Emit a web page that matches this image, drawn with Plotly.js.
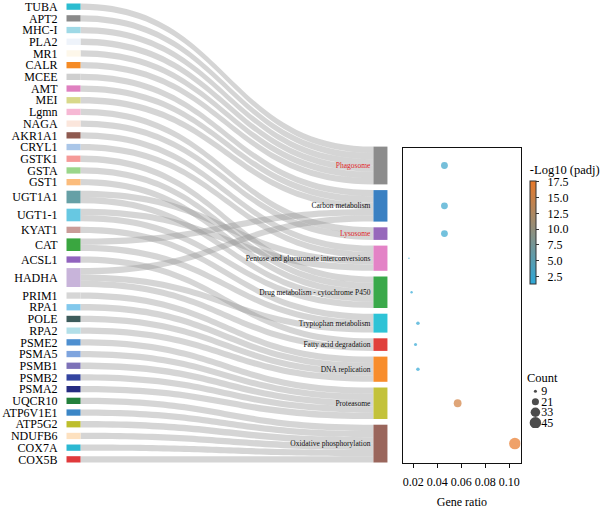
<!DOCTYPE html>
<html><head><meta charset="utf-8">
<script src="https://cdn.plot.ly/plotly-3.0.1.min.js"></script>
<style>html,body{margin:0;padding:0;background:#fff}#chart{width:600px;height:509px}</style>
</head><body><div id="chart"></div>
<script>
// ---------------- data ----------------
const genes = ['TUBA','APT2','MHC-I','PLA2','MR1','CALR','MCEE','AMT','MEI','Lgmn','NAGA','AKR1A1','CRYL1','GSTK1','GSTA','GST1','UGT1A1','UGT1-1','KYAT1','CAT','ACSL1','HADHA','PRIM1','RPA1','POLE','RPA2','PSME2','PSMA5','PSMB1','PSMB2','PSMA2','UQCR10','ATP6V1E1','ATP5G2','NDUFB6','COX7A','COX5B'];
const geneColors = ['#2bbcd0','#8a8a8a','#9fd9e6','#eef3fa','#fdf7ea','#f58b25','#cfcfcf','#df80c0','#d8d88a','#f6b8d4','#fbe6dc','#8f5a50','#aac6e8','#f59a98','#9ad68a','#fbbc7c','#66a0a6','#67c8e2','#c99c98','#3aa640','#9163be','#c8b4da','#d6d6d6','#82c8ec','#3d5c5c','#b2dfe8','#4e8fd0','#7ea4de','#7d72b8','#3344a0','#262c82','#23803c','#3b86c6','#bdbe2c','#fde1c0','#2cb8d2','#e03a3c'];
const pathways = ['Phagosome','Carbon metabolism','Lysosome','Pentose and glucuronate interconversions','Drug metabolism - cytochrome P450','Tryptophan metabolism','Fatty acid degradation','DNA replication','Proteasome','Oxidative phosphorylation'];
const pathwayColors = ['#8c8c8c','#3a80c2','#9768bb','#e383c6','#3aa94a','#2ec3d6','#e0403c','#f88d2c','#c3c23a','#9a665c'];
const highlighted = ['Phagosome','Lysosome'];
const pathwayGenes = [
  ['TUBA','APT2','MHC-I','PLA2','MR1','CALR'],
  ['MCEE','AMT','MEI','CAT','HADHA'],
  ['Lgmn','NAGA'],
  ['AKR1A1','CRYL1','UGT1A1','UGT1-1'],
  ['GSTK1','GSTA','GST1','UGT1A1','UGT1-1'],
  ['KYAT1','CAT','HADHA'],
  ['ACSL1','HADHA'],
  ['PRIM1','RPA1','POLE','RPA2'],
  ['PSME2','PSMA5','PSMB1','PSMB2','PSMA2'],
  ['UQCR10','ATP6V1E1','ATP5G2','NDUFB6','COX7A','COX5B']
];
const geneRatio = [0.046,0.046,0.046,0.0164,0.0186,0.0239,0.0219,0.0239,0.057,0.1047];
const counts = [20,20,20,7,8,10,9,10,24,45];
const negLog10Padj = [2.6,2.4,2.2,1.5,1.4,1.8,1.7,1.6,15.6,17.6];
const countLegend = [9,21,33,45];
const xTicks = [0.02,0.04,0.06,0.08,0.10];
const cbTicks = [2.5,5,7.5,10,12.5,15,17.5];

// ---------------- layout constants (pixels) ----------------
const PW = 600, PH = 509;
const SK = {left: 67, right: 390, top: 3.5, bottom: 462.5, thick: 14, padL: 5.4, padR: 5.7};
const BOX = {left: 406, right: 524, top: 148, bottom: 463};
const FONT = 'Liberation Serif, Times New Roman, serif';
const INK = '#000';
const skW = SK.right - SK.left, skH = SK.bottom - SK.top;
const px2py = v => 1 - v / PH;

// ---------------- sankey structure ----------------
const src = [], tgt = [], val = [];
pathwayGenes.forEach((gs, p) => gs.forEach(g => { src.push(genes.indexOf(g)); tgt.push(genes.length + p); val.push(1); }));
const geneUnits = genes.map((g, i) => src.filter(s => s === i).length);
const pathUnits = pathwayGenes.map(gs => gs.length);
const totalUnits = geneUnits.reduce((a, b) => a + b, 0);
const ky = (skH - (genes.length - 1) * SK.padL) / totalUnits;

const leftCenters = [];
let yy = 0;
geneUnits.forEach(u => { const h = u * ky; leftCenters.push(yy + h / 2); yy += h + SK.padL; });
const rightTotal = pathUnits.reduce((a, b) => a + b, 0) * ky + (pathways.length - 1) * SK.padR;
const rightCenters = [];
yy = skH - rightTotal;
pathUnits.forEach(u => { const h = u * ky; rightCenters.push(yy + h / 2); yy += h + SK.padR; });

const nodeX = genes.map(() => (SK.thick / 2) / skW).concat(pathways.map(() => (skW - SK.thick / 2) / skW));
const nodeY = leftCenters.map(c => c / skH).concat(rightCenters.map(c => c / skH));
const nodeLabels = genes.map(() => '').concat(pathways.map(p => highlighted.includes(p) ? '<span style="fill:#e0262a;color:#e0262a">' + p + '</span>' : p));

const sankey = {
  type: 'sankey', arrangement: 'fixed', orientation: 'h', hoverinfo: 'none',
  domain: {x: [SK.left / PW, SK.right / PW], y: [px2py(SK.bottom), px2py(SK.top)]},
  node: {label: nodeLabels, color: geneColors.concat(pathwayColors), x: nodeX, y: nodeY,
         pad: SK.padL, thickness: SK.thick, line: {width: 0}, hoverinfo: 'none'},
  link: {source: src, target: tgt, value: val, color: 'rgba(150,150,150,0.4)', hoverinfo: 'none'},
  textfont: {family: FONT, size: 7.5, color: '#111', shadow: 'none'}
};

// ---------------- dot plot ----------------
const cMin = Math.min(...counts), cMax = Math.max(...counts), dMin = 1.5, dMax = 11.5;
const sz = c => Math.sqrt(dMin * dMin + (dMax * dMax - dMin * dMin) * Math.max(0, c - cMin) / (cMax - cMin));

const dots = {
  type: 'scatter', mode: 'markers', x: geneRatio, y: rightCenters, xaxis: 'x', yaxis: 'y',
  hoverinfo: 'skip', showlegend: false,
  marker: {size: counts.map(sz), color: negLog10Padj, cmin: 1.34, cmax: 17.6,
    colorscale: [[0, '#2ea8d8'], [1, '#e8792a']], line: {width: 0},
    colorbar: {x: 533 / PW, xanchor: 'left', xpad: 0, y: px2py(223), yanchor: 'middle',
      len: 122, lenmode: 'pixels', ypad: 0, thickness: 5.5, outlinewidth: 1, outlinecolor: '#333',
      tickvals: cbTicks, ticktext: cbTicks.map(v => '\u2002' + v.toFixed(1)), ticks: 'outside', ticklen: 3,
      tickcolor: '#333', tickfont: {family: FONT, size: 12, color: INK},
      title: {text: '-Log10 (padj)', side: 'top', font: {family: FONT, size: 12.5, color: INK}}}}
};

// gene labels (left axis, same pixel scale as the sankey)
const geneAxisTrace = {type: 'scatter', mode: 'markers', x: genes.map(() => 0), y: leftCenters,
  xaxis: 'x2', yaxis: 'y2', marker: {opacity: 0, size: 1}, hoverinfo: 'skip', showlegend: false};

// count size legend
const sizeLegend = {type: 'scatter', mode: 'markers', x: countLegend.map(() => 0), y: countLegend.map((c, i) => i),
  xaxis: 'x3', yaxis: 'y3', marker: {size: countLegend.map(sz), color: '#000', line: {width: 0}},
  hoverinfo: 'skip', showlegend: false};

const layout = {
  width: PW, height: PH, margin: {l: 0, r: 0, t: 0, b: 0},
  paper_bgcolor: '#fff', plot_bgcolor: '#fff', showlegend: false,
  font: {family: FONT, size: 12, color: INK},
  xaxis: {domain: [BOX.left / PW, BOX.right / PW], range: [0.0117, 0.1094], anchor: 'y',
    tickvals: xTicks, ticktext: xTicks.map(v => v.toFixed(2)), ticks: 'outside', ticklen: 4, tickcolor: '#111',
    showline: true, mirror: true, linecolor: '#111', linewidth: 1.3, showgrid: false, zeroline: false,
    tickfont: {family: FONT, size: 12, color: INK}, ticklabelstandoff: 3,
    title: {text: 'Gene ratio', standoff: 16, font: {family: FONT, size: 12, color: INK}}},
  yaxis: {domain: [px2py(BOX.bottom), px2py(BOX.top)], range: [BOX.bottom - SK.top, BOX.top - SK.top], anchor: 'x',
    showline: true, mirror: true, linecolor: '#111', linewidth: 1.3, showgrid: false, zeroline: false,
    showticklabels: false, ticks: ''},
  xaxis2: {domain: [60 / PW, 62 / PW], range: [-1, 1], visible: false, anchor: 'y2'},
  yaxis2: {domain: [0, 1], range: [PH - SK.top, -SK.top], anchor: 'x2', side: 'left',
    tickvals: leftCenters, ticktext: genes, ticks: '', showline: false, showgrid: false, zeroline: false,
    ticklabeloverflow: 'allow',
    tickfont: {family: FONT, size: 12, color: INK}, ticklabelstandoff: 1},
  xaxis3: {domain: [528 / PW, 550 / PW], range: [-1, 1], visible: false, anchor: 'y3'},
  yaxis3: {domain: [px2py(428), px2py(386)], range: [3.5, -0.5], anchor: 'free', position: 544 / PW, side: 'right',
    tickvals: countLegend.map((c, i) => i), ticktext: countLegend.map(String), ticks: '', showline: false,
    showgrid: false, zeroline: false, tickfont: {family: FONT, size: 12, color: INK}},
  annotations: [{text: 'Count', xref: 'paper', yref: 'paper', x: 529 / PW, y: px2py(378), xanchor: 'left', yanchor: 'middle',
    showarrow: false, font: {family: FONT, size: 12.5, color: INK}}]
};

Plotly.newPlot('chart', [sankey, geneAxisTrace, sizeLegend, dots], layout, {staticPlot: true, displayModeBar: false});
</script>
</body></html>
